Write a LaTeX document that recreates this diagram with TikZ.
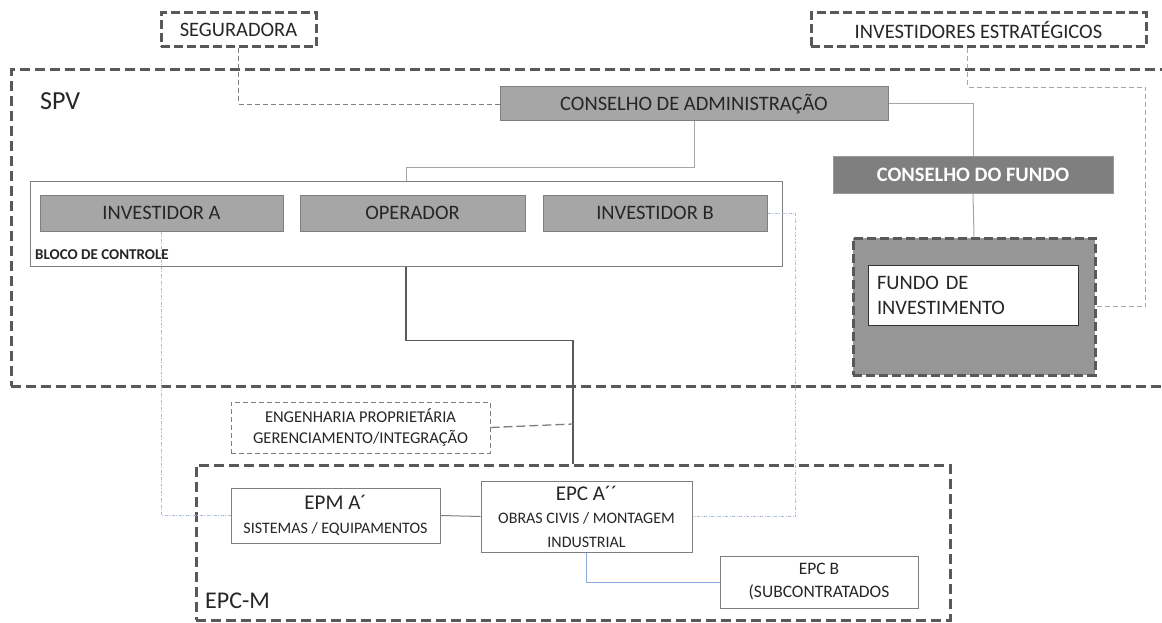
\documentclass[tikz,border=0pt]{standalone}
\usepackage{fontspec}
\setmainfont{Carlito}
\usetikzlibrary{positioning,calc}

\definecolor{frameGray}{HTML}{595959}
\definecolor{panelGray}{HTML}{A6A6A6}
\definecolor{darkGray}{HTML}{7F7F7F}
\definecolor{fundGray}{HTML}{969696}
\definecolor{lineGray}{HTML}{A6A6A6}
\definecolor{dotBlue}{HTML}{A9BCDA}
\definecolor{linkBlue}{HTML}{8EA9DB}
\definecolor{textGray}{HTML}{262626}

\begin{document}
\begin{tikzpicture}[
    x=1pt, y=-1pt,
    every node/.style={font=\fontsize{20.5}{24}\selectfont, text=textGray, inner sep=0pt},
    frame/.style={draw=frameGray, line width=3pt, dash pattern=on 10pt off 5pt},
    extbox/.style={draw=frameGray, line width=3pt, dash pattern=on 9pt off 4pt, fill=white},
    panel/.style={draw=darkGray, fill=panelGray, line width=1pt},
    darkpanel/.style={draw=darkGray!80, fill=darkGray, line width=1pt, text=white, font=\fontsize{20.5}{24}\selectfont\bfseries},
    plainbox/.style={draw=darkGray, fill=white, line width=1pt, align=center},
    big/.style={font=\fontsize{26}{30}\selectfont},
    link/.style={draw=lineGray, line width=1pt},
    mainlink/.style={draw=frameGray, line width=1.3pt},
    dashlink/.style={draw=darkGray, line width=0.8pt, dash pattern=on 5pt off 3pt},
    bluelink/.style={draw=linkBlue, line width=1pt},
    dotlink/.style={draw=dotBlue, line width=0.9pt, dash pattern=on 3pt off 1.5pt on 1pt off 1.5pt}
]
\useasboundingbox (0,0) rectangle (1162,623);

% Outer frames
\node[frame, minimum width=1164pt, minimum height=316pt] (spv) at (593,228) {};
\node[anchor=west, big] (spvlabel) at (40,101) {SPV};
\node[frame, minimum width=754pt, minimum height=155pt] (epcm) at (573,542.5) {};
\node[anchor=west, font=\fontsize{24}{28}\selectfont] (epcmlabel) at (205,601) {EPC-M};

% External parties
\node[extbox, minimum width=155pt, minimum height=34pt] (seg) at (238.5,30) {SEGURADORA};
\node[extbox, minimum width=335pt, minimum height=34pt] (inv) at (978.5,30) {INVESTIDORES ESTRATÉGICOS};

% Boards
\node[panel, minimum width=388pt, minimum height=34pt] (cadm) at (694,104) {CONSELHO DE ADMINISTRAÇÃO};
\node[darkpanel, minimum width=280pt, minimum height=36pt] (cfundo) at (973,175) {CONSELHO DO FUNDO};

% Control block
\node[plainbox, minimum width=752pt, minimum height=85pt] (bloco) at (406,223.5) {};
\node[panel, minimum width=243pt, minimum height=36pt] (inva) at (161.5,213) {INVESTIDOR A};
\node[panel, minimum width=225pt, minimum height=36pt] (oper) at (412.5,213) {OPERADOR};
\node[panel, minimum width=224pt, minimum height=36pt] (invb) at (655,213) {INVESTIDOR B};
\node[anchor=west, font=\fontsize{15}{17}\selectfont\bfseries] (blocolabel) at (35,255) {BLOCO DE CONTROLE};

% Fund
\node[extbox, fill=fundGray, minimum width=242pt, minimum height=137pt] (fundo) at (974,306.5) {};
\node[plainbox, draw=black!80, align=left, text width=192pt, inner xsep=9pt, minimum height=60pt] (fundoin) at (973,295) {FUNDO DE\\[1pt]INVESTIMENTO};

% EPC-M contractors
\node[plainbox, dash pattern=on 5pt off 3pt, font=\fontsize{16.5}{20}\selectfont, minimum width=259pt, minimum height=51pt] (eng) at (360.5,427.5) {ENGENHARIA PROPRIETÁRIA\\[1pt]GERENCIAMENTO/INTEGRAÇÃO};
\node[plainbox, font=\fontsize{21}{24}\selectfont, minimum width=209pt, minimum height=55pt] (epm) at (335.5,515.5) {EPM A´\\[0pt]\fontsize{16}{18}\selectfont SISTEMAS / EQUIPAMENTOS};
\node[plainbox, font=\fontsize{21}{24}\selectfont, minimum width=211pt, minimum height=71pt] (epca) at (586.5,516.5) {EPC A´´\\[-1pt]\fontsize{16}{20}\selectfont OBRAS CIVIS / MONTAGEM\\\fontsize{16}{20}\selectfont INDUSTRIAL};
\node[plainbox, font=\fontsize{17.5}{21}\selectfont, minimum width=198pt, minimum height=52pt] (epcb) at (819,582) {EPC B\\[2pt](SUBCONTRATADOS};

% Board connections
\draw[link] (cadm.south) -- ++(0,46) -| (bloco.north);
\draw[link] (cadm.east) -| (cfundo.north);
\draw[link] (cfundo.south) -- (fundo.north);
\draw[dashlink] (seg.south) |- (cadm.west);
\draw[dashlink, draw=lineGray] ([xshift=-11pt]inv.south) |- ++(178,39) |- (fundo.east);

% Control block to EPC-M
\draw[mainlink] (bloco.south) |- ++(167,74) coordinate (elbow) -- (epcm.north);
\coordinate (tap) at (573,424);
\draw[dashlink, line width=1.3pt, dash pattern=on 9pt off 4pt] (eng.east) -- (tap);

% Contractor links
\draw[link, draw=darkGray] (epm.east) -- (epca.west);
\draw[bluelink] (epca.south) |- (epcb.west);
\draw[dotlink] (inva.south) |- (epm.west);
\draw[dotlink] (invb.east) -- ++(28,0) |- (epca.east);

\end{tikzpicture}
\end{document}
